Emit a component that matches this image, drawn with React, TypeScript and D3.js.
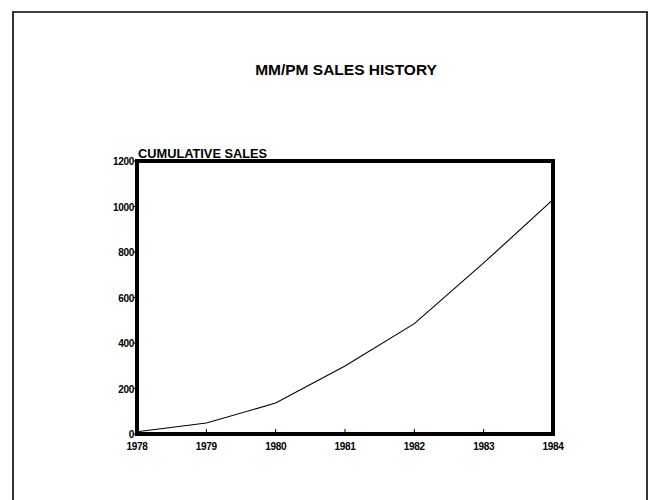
import React from "react";
import * as d3 from "d3";

const years = [1978, 1979, 1980, 1981, 1982, 1983, 1984];
const cumulativeSales = [10, 48, 136, 299, 485, 752, 1030];
const yTicks = [0, 200, 400, 600, 800, 1000, 1200];
const title = "MM/PM SALES HISTORY";
const yLabel = "CUMULATIVE SALES";

export default function App() {
  const W = 649, H = 500;
  const left = 137, right = 553, top = 161, bottom = 434;
  const x = d3.scaleLinear().domain([1978, 1984]).range([left, right]);
  const y = d3.scaleLinear().domain([0, 1200]).range([bottom, top]);
  const line = d3
    .line<number>()
    .x((_, i) => x(years[i]))
    .y((d) => y(d));
  const font = "'Liberation Sans', Arial, sans-serif";
  return (
    <svg
      width={W}
      height={H}
      style={{ position: "absolute", left: 0, top: 0, background: "#fff" }}
      fontFamily={font}
    >
      <rect x={0} y={0} width={W} height={H} fill="#fff" />
      <path d={`M13,${H} L13,12 L647,12 L647,${H}`} fill="none" stroke="#000" strokeWidth={1.6} />
      <text x={346} y={75} textAnchor="middle" fontSize={15.5} fontWeight="bold">
        {title}
      </text>
      <text x={138} y={158} fontSize={12.8} fontWeight="bold">
        {yLabel}
      </text>
      {yTicks.map((t) => (
        <g key={t}>
          <line x1={left - 4} x2={left} y1={y(t)} y2={y(t)} stroke="#000" strokeWidth={1} />
          <text x={left - 3} y={y(t) + 4} textAnchor="end" fontSize={10} fontWeight="bold" letterSpacing={-0.3}>
            {t}
          </text>
        </g>
      ))}
      {years.map((yr) => (
        <g key={yr}>
          <line x1={x(yr)} x2={x(yr)} y1={bottom} y2={bottom - 5} stroke="#000" strokeWidth={1} />
          <text x={x(yr)} y={450} textAnchor="middle" fontSize={10} fontWeight="bold" letterSpacing={-0.3}>
            {yr}
          </text>
        </g>
      ))}
      <rect x={left} y={top} width={right - left} height={bottom - top} fill="none" stroke="#000" strokeWidth={4} />
      <path d={line(cumulativeSales) || ""} fill="none" stroke="#000" strokeWidth={1.1} />
    </svg>
  );
}
